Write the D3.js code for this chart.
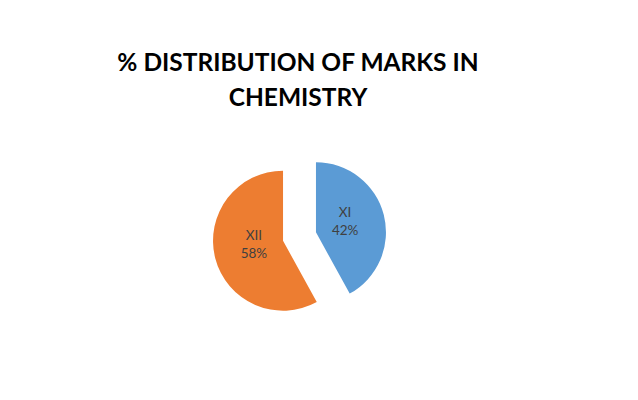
<!DOCTYPE html>
<html>
<head>
<meta charset="utf-8">
<script src="https://cdn.jsdelivr.net/npm/d3@7"></script>
<style>
  body { margin: 0; background: #fff; }
</style>
</head>
<body>
<div id="chart"></div>
<script>
    // chart values
    var categories = ["XI", "XII"];
    var shares = [42, 58];
    var colors = ["#5B9BD5", "#ED7D31"];
    var titleLines = ["% DISTRIBUTION OF MARKS IN", "CHEMISTRY"];

    var width = 638;
    var height = 400;
    var radius = 70;
    var explode = 17;
    var cx = 299.5, cy = 236.5;

    var svg = d3.select("#chart").append("svg")
        .attr("width", width)
        .attr("height", height);

    svg.append("g")
        .attr("class", "title")
        .selectAll("text")
        .data(titleLines)
        .enter().append("text")
        .attr("x", 298)
        .attr("y", (d, i) => 71 + i * 35)
        .attr("text-anchor", "middle")
        .style("font", "bold 24.5px Lato, 'Open Sans', sans-serif")
        .style("fill", "#000")
        .text(d => d);

    var data = categories.map((c, i) => ({name: c, value: shares[i], color: colors[i]}));

    var pie = d3.pie()
        .sort(null)
        .value(d => d.value);

    var arc = d3.arc()
        .innerRadius(0)
        .outerRadius(radius);

    var labelArc = d3.arc()
        .innerRadius(radius * 0.43)
        .outerRadius(radius * 0.43);

    var g = svg.append("g")
        .attr("transform", "translate(" + cx + "," + cy + ")");

    var slices = g.selectAll(".slice")
        .data(pie(data))
        .enter().append("g")
        .attr("class", "slice")
        .attr("transform", function(d) {
            var mid = (d.startAngle + d.endAngle) / 2;
            return "translate(" + (Math.sin(mid) * explode) + "," + (-Math.cos(mid) * explode) + ")";
        });

    slices.append("path")
        .attr("d", arc)
        .attr("fill", d => d.data.color);

    var labels = slices.append("text")
        .attr("transform", d => "translate(" + labelArc.centroid(d) + ")")
        .attr("text-anchor", "middle")
        .style("font", "13.5px Lato, 'Open Sans', sans-serif")
        .style("fill", "#404040");

    labels.append("tspan")
        .attr("x", 0)
        .attr("y", -8)
        .text(d => d.data.name);

    labels.append("tspan")
        .attr("x", 0)
        .attr("y", 10)
        .text(d => d.data.value + "%");
</script>
</body>
</html>
